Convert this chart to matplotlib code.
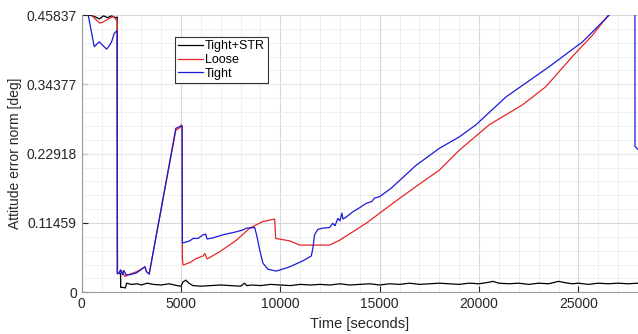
import matplotlib
matplotlib.use('Agg')
import matplotlib.pyplot as plt
from matplotlib.ticker import MultipleLocator

plt.rcParams['font.family'] = ['Liberation Sans', 'DejaVu Sans']

# Tight+STR (black)
t_str = [0, 300, 633, 900, 1100, 1300, 1500, 1700, 1789, 1800, 1955, 1965, 2100, 2200, 2261,
         2500, 2800, 3000, 3300, 3600, 4000, 4400, 4800, 5000, 5100, 5241, 5400, 5600, 6000,
         6500, 7000, 7500, 8000, 8200, 8300, 8600, 9000, 9500, 10000, 10500, 11000, 11500,
         12000, 12500, 13000, 13500, 14000, 14500, 15000, 15500, 16000, 16500, 17000, 17500,
         18000, 18500, 19000, 19500, 20000, 20400, 20700, 21000, 21500, 22000, 22500, 23000,
         23500, 24000, 24300, 24700, 25000, 25500, 26000, 26500, 27000, 27500, 28000]
v_str = [0.462, 0.459, 0.456, 0.452, 0.457, 0.454, 0.457, 0.454, 0.455, 0.031, 0.031, 0.008,
         0.008, 0.007, 0.015, 0.013, 0.014, 0.012, 0.015, 0.013, 0.012, 0.014, 0.011, 0.010,
         0.017, 0.020, 0.015, 0.011, 0.010, 0.011, 0.012, 0.011, 0.010, 0.015, 0.011, 0.012,
         0.011, 0.013, 0.012, 0.011, 0.013, 0.012, 0.013, 0.012, 0.014, 0.012, 0.013, 0.014,
         0.012, 0.014, 0.013, 0.015, 0.013, 0.014, 0.015, 0.014, 0.013, 0.015, 0.014, 0.016,
         0.018, 0.015, 0.014, 0.015, 0.013, 0.015, 0.014, 0.018, 0.016, 0.014, 0.015, 0.013,
         0.015, 0.014, 0.015, 0.014, 0.015]

# Loose (red)
t_loose = [0, 400, 633, 920, 1100, 1400, 1600, 1760, 1789, 1800, 1875, 2000, 2176, 2427, 2764,
           3096, 3181, 3266, 3397, 4739, 4940, 5025, 5055, 5070, 5106, 5442, 5779, 6111, 6196,
           6313, 6950, 7788, 8457, 9126, 9714, 9764, 10467, 10970, 12477, 12980, 14321, 15658,
           16834, 18004, 19010, 20517, 22191, 23366, 24703, 25708, 26547, 26800, 28000]
v_loose = [0.50, 0.465, 0.453, 0.445, 0.447, 0.453, 0.456, 0.450, 0.450, 0.031, 0.031, 0.036,
           0.026, 0.030, 0.034, 0.040, 0.042, 0.034, 0.030, 0.268, 0.272, 0.277, 0.270, 0.055,
           0.045, 0.049, 0.056, 0.060, 0.064, 0.055, 0.067, 0.086, 0.106, 0.117, 0.121, 0.089,
           0.085, 0.078, 0.078, 0.086, 0.114, 0.147, 0.175, 0.202, 0.235, 0.277, 0.310, 0.340,
           0.390, 0.425, 0.460, 0.47, 0.55]

# Tight (blue)
t_tight = [0, 330, 633, 884, 1100, 1256, 1400, 1507, 1638, 1759, 1789, 1800, 1875, 1950, 2050,
           2126, 2226, 2427, 2764, 3096, 3181, 3266, 3397, 4739, 4940, 5055, 5070, 5141, 5442,
           5610, 5860, 6111, 6246, 6313, 6614, 7116, 7788, 8121, 8290, 8709, 8824, 8960, 9126,
           9377, 9798, 10467, 11136, 11557, 11638, 11723, 11889, 12141, 12477, 12643, 12750,
           12894, 13000, 13095, 13150, 13300, 13648, 14000, 14321, 14600, 14750, 14990, 15577,
           16834, 18004, 19010, 19849, 21357, 23532, 25206, 26547, 26800, 27840, 27850, 28000]
v_tight = [0.50, 0.458, 0.406, 0.414, 0.407, 0.402, 0.408, 0.414, 0.428, 0.432, 0.432, 0.031,
           0.031, 0.037, 0.029, 0.036, 0.029, 0.029, 0.032, 0.040, 0.042, 0.034, 0.030, 0.271,
           0.274, 0.275, 0.082, 0.082, 0.085, 0.089, 0.089, 0.095, 0.096, 0.088, 0.090, 0.095,
           0.100, 0.103, 0.106, 0.107, 0.092, 0.070, 0.048, 0.038, 0.035, 0.042, 0.052, 0.060,
           0.073, 0.095, 0.104, 0.106, 0.107, 0.114, 0.110, 0.122, 0.118, 0.131, 0.121, 0.124,
           0.133, 0.140, 0.147, 0.150, 0.156, 0.158, 0.172, 0.210, 0.238, 0.257, 0.277, 0.323,
           0.373, 0.414, 0.458, 0.47, 0.60, 0.241, 0.236]

YMAX = 0.45837
yticks = [0, 0.11459, 0.22918, 0.34377, 0.45837]
ytick_labels = ['0', '0.11459', '0.22918', '0.34377', '0.45837']

fig = plt.figure(figsize=(6.38, 3.34), dpi=100)
ax = fig.add_axes([0.128, 0.125, 0.872, 0.830])

ax.plot(t_str, v_str, color='k', lw=0.9, label='Tight+STR')
ax.plot(t_loose, v_loose, color=(0.9, 0.15, 0.15), lw=0.9, label='Loose')
ax.plot(t_tight, v_tight, color=(0.1, 0.1, 0.85), lw=0.9, label='Tight')

ax.set_xlim(0, 28000)
ax.set_ylim(0, YMAX)
ax.set_xticks([0, 5000, 10000, 15000, 20000, 25000])
ax.set_yticks(yticks)
ax.set_yticklabels(ytick_labels)
ax.xaxis.set_minor_locator(MultipleLocator(1000))
ax.yaxis.set_minor_locator(MultipleLocator(YMAX / 20))

ax.grid(which='major', color='#d8d8d8', lw=0.8)
ax.grid(which='minor', color='#ececec', lw=0.6)
ax.set_axisbelow(True)

ax.tick_params(which='both', direction='in', labelsize=10, colors='#262626')
ax.tick_params(which='minor', length=0)
ax.tick_params(which='major', length=4)
for s in ['top', 'right']:
    ax.spines[s].set_visible(False)
for s in ['left', 'bottom']:
    ax.spines[s].set_color('#999999')
    ax.spines[s].set_linewidth(0.8)

ax.set_xlabel('Time [seconds]', fontsize=10.5, labelpad=4, color='#262626')
ax.set_ylabel('Attitude error norm [deg]', fontsize=10, labelpad=3, color='#262626')

leg = ax.legend(loc='upper left', bbox_to_anchor=(0.168, 0.921), borderaxespad=0,
                fontsize=9, handlelength=2.0, handletextpad=0.1, labelspacing=0.15,
                borderpad=0.25, fancybox=False, framealpha=1)
leg.get_frame().set_edgecolor('#333333')
leg.get_frame().set_linewidth(0.8)

fig.savefig('out.png', dpi=100)
